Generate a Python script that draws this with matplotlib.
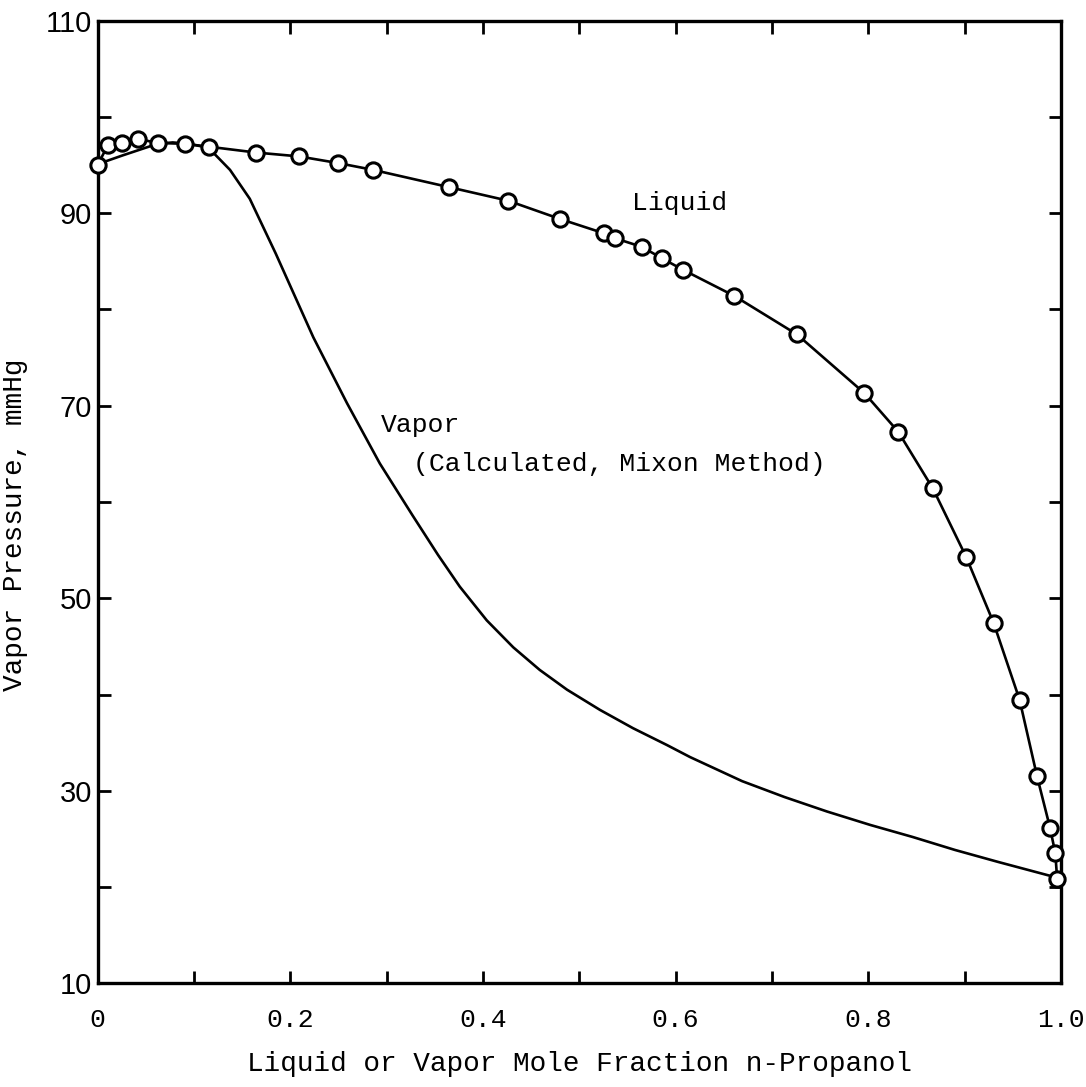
import numpy as np
import matplotlib
matplotlib.use('Agg')
import matplotlib.pyplot as plt

# datos
x_liquido = [0.0, 0.011, 0.025, 0.042, 0.063, 0.091, 0.116, 0.1645, 0.209, 0.250, 0.286,
             0.365, 0.426, 0.480, 0.526, 0.537, 0.565, 0.586, 0.608, 0.661, 0.726,
             0.796, 0.831, 0.867, 0.9015, 0.930, 0.957, 0.975, 0.9886, 0.994, 0.996]
p_liquido = [95.0, 97.1, 97.3, 97.7, 97.3, 97.2, 96.9, 96.3, 95.9, 95.2, 94.5,
             92.7, 91.3, 89.4, 87.9, 87.4, 86.5, 85.3, 84.1, 81.4, 77.4,
             71.3, 67.3, 61.4, 54.3, 47.45, 39.45, 31.55, 26.15, 23.55, 20.85]

x_vapor = [0.0, 0.006, 0.026, 0.044, 0.062, 0.078, 0.095, 0.110, 0.120, 0.1375, 0.158,
           0.185, 0.224, 0.259, 0.293, 0.327, 0.3534, 0.376, 0.404, 0.4315,
           0.459, 0.4873, 0.5215, 0.5558, 0.591, 0.615, 0.669, 0.713, 0.757, 0.802,
           0.846, 0.890, 0.935, 0.993, 0.996]
p_vapor = [95.0, 95.3, 96.0, 96.6, 97.2, 97.35, 97.2, 96.9, 96.3, 94.5, 91.5,
           85.8, 77.1, 70.25, 64.0, 58.6, 54.5, 51.2, 47.7, 44.9,
           42.55, 40.5, 38.4, 36.5, 34.75, 33.5, 31.0, 29.35, 27.85, 26.45,
           25.2, 23.85, 22.6, 21.05, 20.85]

x_ticks = np.arange(0, 1.01, 0.1)
x_etiquetas = ['0', '', '0.2', '', '0.4', '', '0.6', '', '0.8', '', '1.0']
y_ticks = np.arange(10, 111, 10)
y_etiquetas = ['10', '', '30', '', '50', '', '70', '', '90', '', '110']

mono = 'Liberation Mono'

fig = plt.figure(figsize=(10.86, 10.87), dpi=100)
ax = fig.add_axes([0.0898, 0.0954, 0.8872, 0.8856])

ax.plot(x_vapor, p_vapor, color='black', linewidth=1.9, zorder=2,
        solid_joinstyle='round')
ax.plot(x_liquido, p_liquido, color='black', linewidth=1.9, marker='o', markersize=11,
        markerfacecolor='white', markeredgecolor='black', markeredgewidth=2.2, zorder=3,
        clip_on=False, solid_joinstyle='round')

ax.set_xlim(0, 1.0)
ax.set_ylim(10, 110)

ax.set_xticks(x_ticks)
ax.set_xticklabels(x_etiquetas, fontfamily=mono, fontsize=19)
ax.set_yticks(y_ticks)
ax.set_yticklabels(y_etiquetas, fontfamily='Liberation Sans', fontsize=21)

ax.tick_params(axis='both', direction='in', length=9, width=2.0, top=True, right=True)
ax.tick_params(axis='x', pad=18)
ax.tick_params(axis='y', pad=4)

for lado in ax.spines.values():
    lado.set_linewidth(2.4)

ax.set_xlabel('Liquid or Vapor Mole Fraction n-Propanol', fontfamily=mono, fontsize=20)
ax.xaxis.set_label_coords(0.5, -0.07)
ax.set_ylabel('Vapor Pressure, mmHg', fontfamily=mono, fontsize=20)
ax.yaxis.set_label_coords(-0.072, 0.476)

ax.text(0.555, 91.1, 'Liquid', fontfamily=mono, fontsize=19, va='center', ha='left')
ax.text(0.294, 68.0, 'Vapor', fontfamily=mono, fontsize=19, va='center', ha='left')
ax.text(0.327, 63.9, '(Calculated, Mixon Method)', fontfamily=mono, fontsize=19,
        va='center', ha='left')

fig.savefig('out.png', dpi=100)
